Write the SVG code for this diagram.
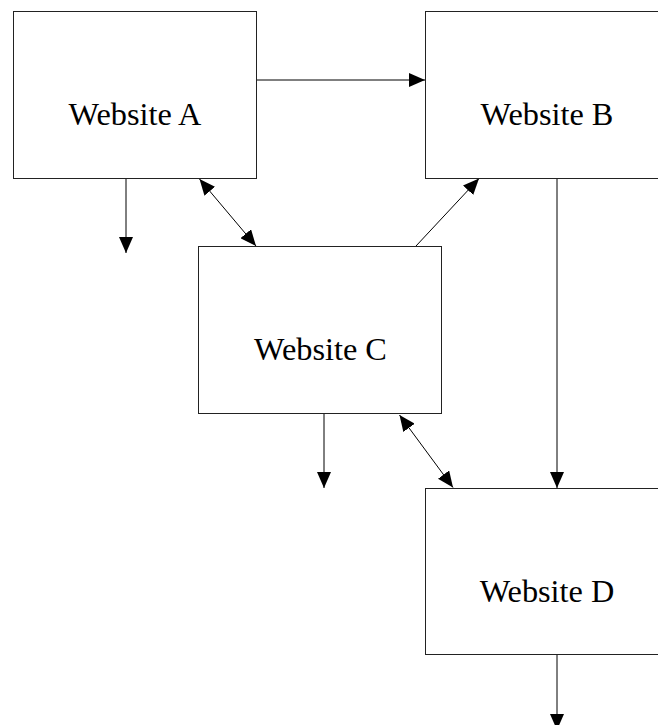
<svg xmlns="http://www.w3.org/2000/svg" width="658" height="725" viewBox="0 0 658 725">
<style>
.box{fill:#fff;stroke:#222;stroke-width:1}
.lbl{font-family:"Liberation Serif","Times New Roman",serif;font-size:32.3px;fill:#000;text-anchor:middle}
.con{stroke:#000;stroke-width:1;fill:none}
</style>
<defs>
<marker id="ah" markerUnits="userSpaceOnUse" markerWidth="16" markerHeight="14" refX="16" refY="7" orient="auto-start-reverse" viewBox="0 0 16 14">
<path d="M0,0 L16,7 L0,14 z" fill="#000"/>
</marker>
</defs>
<rect width="658" height="725" fill="#fff"/>
<g id="connectors">
<line class="con" x1="257" y1="80" x2="425" y2="80" marker-end="url(#ah)"/>
<line class="con" x1="126" y1="178" x2="126" y2="253" marker-end="url(#ah)"/>
<line class="con" x1="199.5" y1="179" x2="256" y2="246" marker-start="url(#ah)" marker-end="url(#ah)"/>
<line class="con" x1="416" y1="246" x2="479" y2="178.5" marker-end="url(#ah)"/>
<line class="con" x1="557" y1="178" x2="557" y2="488" marker-end="url(#ah)"/>
<line class="con" x1="324" y1="414" x2="324" y2="488" marker-end="url(#ah)"/>
<line class="con" x1="399.5" y1="415" x2="453" y2="487.5" marker-start="url(#ah)" marker-end="url(#ah)"/>
<line class="con" x1="557" y1="655" x2="557" y2="730" marker-end="url(#ah)"/>
</g>
<g id="websiteA">
<rect class="box" x="13.5" y="11.5" width="243" height="167"/>
<text class="lbl" x="135" y="124.5">Website A</text>
</g>
<g id="websiteB">
<rect class="box" x="425.5" y="11.5" width="243" height="167"/>
<text class="lbl" x="547" y="124.5">Website B</text>
</g>
<g id="websiteC">
<rect class="box" x="198.5" y="246.5" width="243" height="167"/>
<text class="lbl" x="320.5" y="359.5">Website C</text>
</g>
<g id="websiteD">
<rect class="box" x="425.5" y="488.5" width="243" height="166"/>
<text class="lbl" x="547" y="601.5">Website D</text>
</g>
</svg>
